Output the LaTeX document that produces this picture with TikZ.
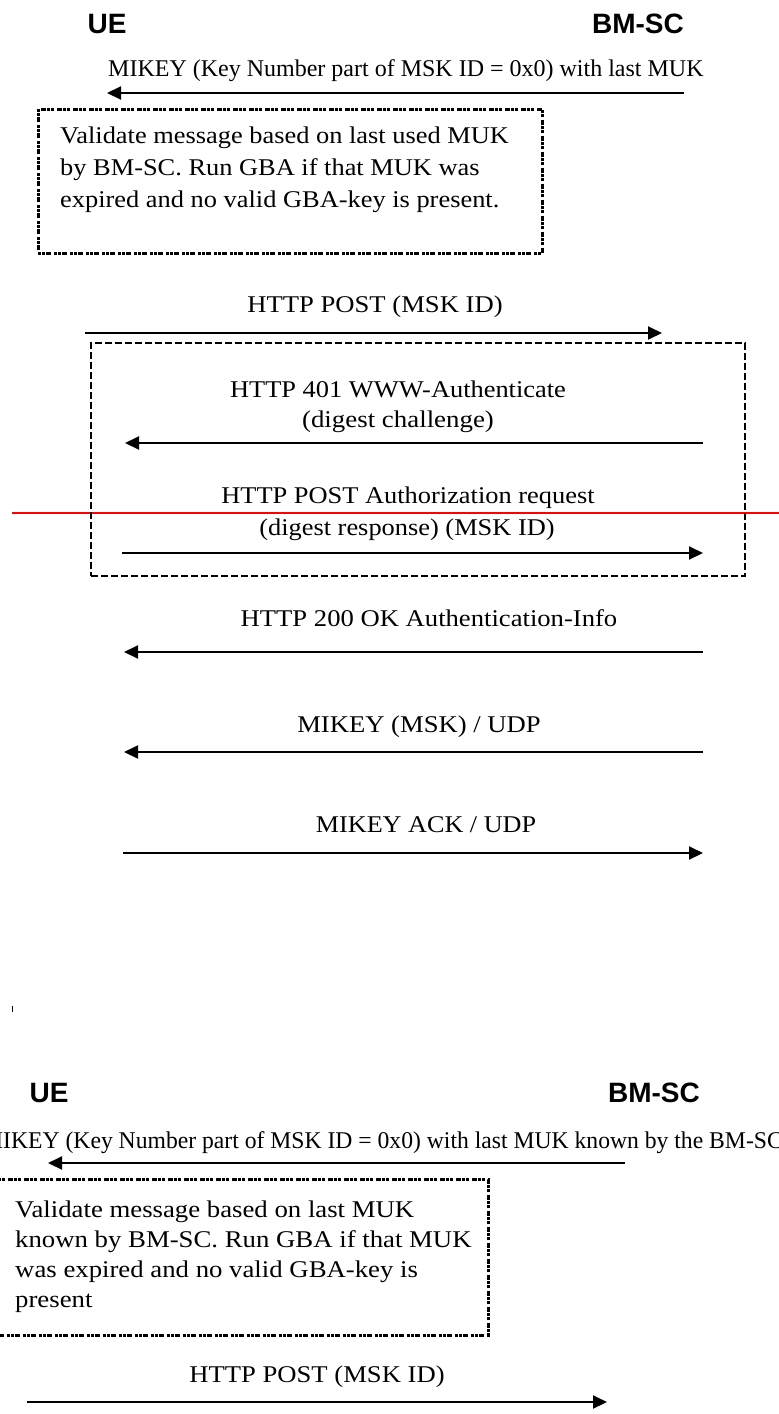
\documentclass[tikz,border=0pt]{standalone}
\usepackage{fontspec}
\usepackage{graphicx}
\setmainfont{Liberation Serif}
\newfontfamily\headfont{Liberation Sans}
\usetikzlibrary{arrows.meta}

% horizontal stretch of a piece of text
\newcommand\widen[2]{\scalebox{#1}[1]{#2}}

\begin{document}
\begin{tikzpicture}[x=1pt,y=-1pt,
  party/.style={font=\headfont\bfseries\fontsize{28}{32}\selectfont, inner sep=0pt, anchor=base},
  msgtext/.style={font=\fontsize{24}{28}\selectfont, inner sep=0pt, anchor=base},
  notetext/.style={font=\fontsize{24}{32}\selectfont, inner sep=0pt, anchor=base west},
  notetextb/.style={font=\fontsize{24}{30}\selectfont, inner sep=0pt, anchor=base west},
  msgarrow/.style={line width=2pt, -{Triangle[length=14pt,width=13pt]}},
  notebox/.style={draw, line width=2.5pt, dash pattern=on 3pt off 1pt on 3pt off 1pt on 5pt off 3pt,
                  inner sep=0pt, anchor=north west},
  groupbox/.style={draw, line width=2pt, dash pattern=on 7pt off 3pt, inner sep=0pt, anchor=north west},
  marker/.style={draw=red, line width=2pt}
]
\useasboundingbox (0,0) rectangle (779,1414);
\clip (0,0) rectangle (779,1414);

% ---------- first flow ----------
\node[party] (ue1) at (107,33) {UE};
\node[party] (bm1) at (638,33) {BM-SC};

\node[msgtext, anchor=base west] (t1) at (108,76)
  {MIKEY (Key Number part of MSK ID = 0x0) with last MUK};
\coordinate (a1s) at (684,93);
\coordinate (a1e) at (107,93);
\draw[msgarrow] (a1s) -- (a1e);

\node[notebox, minimum width=504pt, minimum height=144pt] (box1) at (37,108) {};
\node[notetext] (n1) at (60,143) {\widen{1.10}{\begin{tabular}[t]{@{}l@{}}
  Validate message based on last used MUK\\
  by BM-SC. Run GBA if that MUK was\\
  expired and no valid GBA-key is present.\end{tabular}}};

\node[msgtext] (t2) at (375,312) {\widen{1.11}{HTTP POST (MSK ID)}};
\coordinate (a2s) at (85,333);
\coordinate (a2e) at (662,333);
\draw[msgarrow] (a2s) -- (a2e);

% red marker line across the page
\coordinate (r1) at (12,513);
\coordinate (r2) at (779,513);
\draw[marker] (r1) -- (r2);

\node[groupbox, minimum width=654pt, minimum height=233pt] (box2) at (90,342) {};

\node[msgtext] (t3a) at (398,397) {\widen{1.10}{HTTP 401 WWW-Authenticate}};
\node[msgtext] (t3b) at (398,427) {\widen{1.12}{(digest challenge)}};
\coordinate (a3s) at (703,443);
\coordinate (a3e) at (125,443);
\draw[msgarrow] (a3s) -- (a3e);

\node[msgtext] (t4a) at (408,503) {\widen{1.10}{HTTP POST Authorization request}};
\node[msgtext] (t4b) at (407,535) {\widen{1.10}{(digest response) (MSK ID)}};
\coordinate (a4s) at (122,553);
\coordinate (a4e) at (703,553);
\draw[msgarrow] (a4s) -- (a4e);

\node[msgtext] (t5) at (429,626) {\widen{1.11}{HTTP 200 OK Authentication-Info}};
\coordinate (a5s) at (703,652);
\coordinate (a5e) at (124,652);
\draw[msgarrow] (a5s) -- (a5e);

\node[msgtext] (t6) at (419,732) {\widen{1.11}{MIKEY (MSK) / UDP}};
\coordinate (a6s) at (703,752);
\coordinate (a6e) at (124,752);
\draw[msgarrow] (a6s) -- (a6e);

\node[msgtext] (t7) at (426,832) {\widen{1.09}{MIKEY ACK / UDP}};
\coordinate (a7s) at (123,853);
\coordinate (a7e) at (703,853);
\draw[msgarrow] (a7s) -- (a7e);

% small stray mark
\coordinate (k1) at (12,1006);
\coordinate (k2) at (12,1012);
\draw[line width=1pt] (k1) -- (k2);

% ---------- second flow ----------
\node[party] (ue2) at (49,1102) {UE};
\node[party] (bm2) at (654,1102) {BM-SC};

\node[msgtext, anchor=base west] (t8) at (-18,1148)
  {\widen{0.985}{MIKEY (Key Number part of MSK ID = 0x0) with last MUK known by the BM-SC}};
\coordinate (a8s) at (625,1163);
\coordinate (a8e) at (48,1163);
\draw[msgarrow] (a8s) -- (a8e);

\node[notebox, minimum width=497pt, minimum height=156pt] (box3) at (-10,1178) {};
\node[notetextb] (n3) at (15,1217) {\widen{1.115}{\begin{tabular}[t]{@{}l@{}}
  Validate message based on last MUK\\
  known by BM-SC. Run GBA if that MUK\\
  was expired and no valid GBA-key is\\
  present\end{tabular}}};

\node[msgtext] (t9) at (317,1382) {\widen{1.11}{HTTP POST (MSK ID)}};
\coordinate (a9s) at (27,1402);
\coordinate (a9e) at (607,1402);
\draw[msgarrow] (a9s) -- (a9e);
\end{tikzpicture}
\end{document}
